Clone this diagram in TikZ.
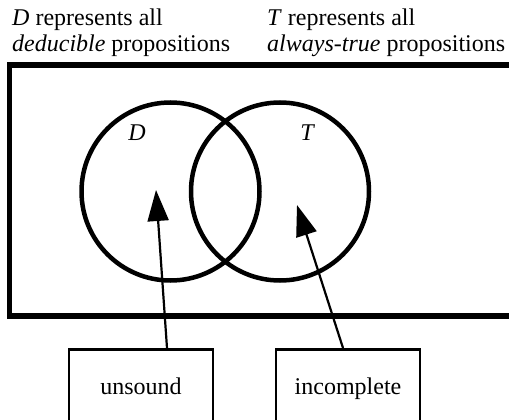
\documentclass[tikz,border=0pt]{standalone}
\usepackage{fontspec}
\setmainfont{Liberation Serif}
\newfontfamily\figfont{Liberation Serif}
\usetikzlibrary{arrows.meta, positioning}

\begin{document}
\begin{tikzpicture}[
    x=1pt, y=-1pt,
    font=\figfont\fontsize{24}{25.5}\selectfont,
    % Node styles
    caption/.style={anchor=north west, inner sep=0pt, align=left},
    setcircle/.style={circle, draw=black, line width=4.5pt, minimum size=178pt, inner sep=0pt},
    setlabel/.style={inner sep=0pt, font=\figfont\fontsize{24}{25.5}\selectfont\itshape},
    tagbox/.style={rectangle, draw=black, line width=2.8pt, anchor=north, minimum width=144pt, minimum height=79pt, text height=16pt, text depth=5pt, inner sep=0pt},
    % Line styles
    region/.style={draw=black, line width=5.5pt},
    pointer/.style={-{Triangle[length=31pt, width=21pt]}, line width=2.2pt, draw=black}
]

\useasboundingbox (0,0) rectangle (509,420);
\clip (0,0) rectangle (509,420);

% 1. Captions (top)
\node[caption] (dcap) at (12,9) {\textit{D} represents all\\\textit{deducible} propositions};
\node[caption] (tcap) at (267,9) {\textit{T} represents all\\\textit{always-true} propositions};

% 2. Universe of propositions
\draw[region] (9.5,65) rectangle (540,316);

% 3. The two sets
\node[setcircle] (dset) at (170.5,191.5) {};
\node[setcircle] (tset) at (280,191.5) {};
\node[setlabel] (dname) at (137,133) {D};
\node[setlabel] (tname) at (307,133) {T};

% 4. Boxes (bottom)
\node[tagbox] (unsound) at (141,348) {unsound};
\node[tagbox] (incomplete) at (348,348) {incomplete};

\coordinate (dtip) at (156,190);
\coordinate (ttip) at (297,205);
\draw[pointer] ([xshift=26pt]unsound.north) -- (dtip);
\draw[pointer] ([xshift=-5pt]incomplete.north) -- (ttip);

\end{tikzpicture}
\end{document}
